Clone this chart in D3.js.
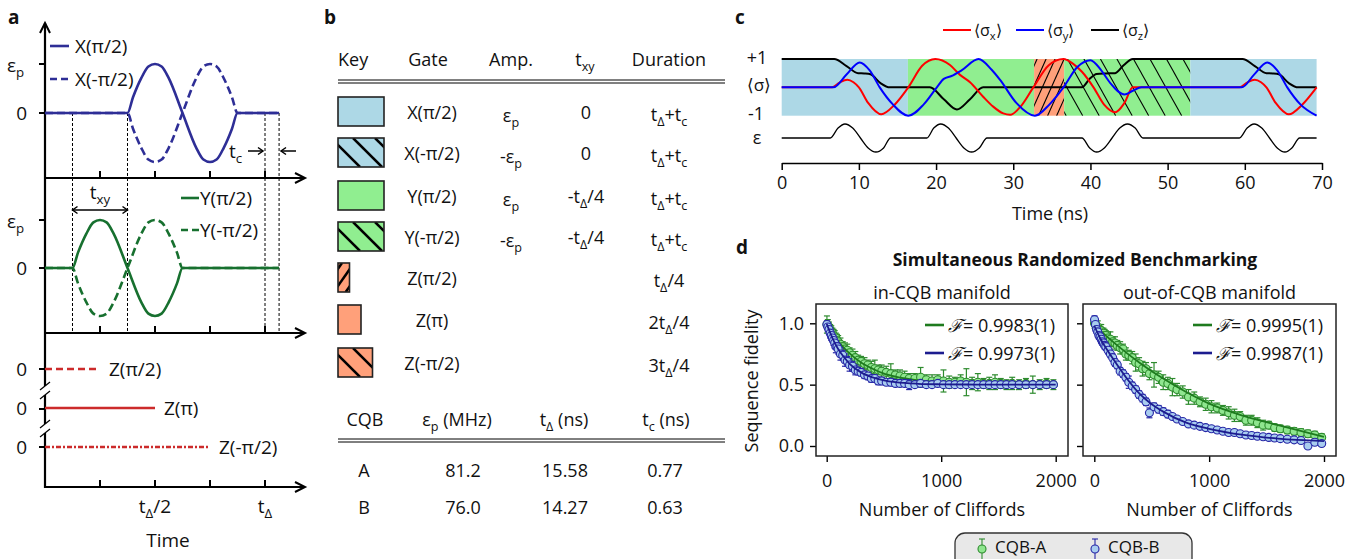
<!DOCTYPE html>
<html><head><meta charset="utf-8">
<script src="https://cdn.jsdelivr.net/npm/d3@7"></script>
<style>body{margin:0;background:#fff} text{font-family:"Open Sans",sans-serif;fill:#111}</style>
</head><body>
<svg id="fig" width="1349" height="559"></svg>
<script>
// ---------------- DATA ----------------
// Panel a (time in units of t_Delta, amplitude in units of eps_p)
const aXTicks = [0.25, 0.5, 0.75, 1.0];
const aGuides = [0.125, 0.375, 1.0, 1.064];
const xPos = [[0,0],[0.375,0],[0.40,0.32],[0.4375,0.71],[0.47,0.95],[0.5,1],[0.53,0.95],[0.5625,0.71],[0.625,0],[0.6875,-0.71],[0.72,-0.95],[0.75,-1],[0.78,-0.95],[0.8125,-0.71],[0.85,-0.32],[0.875,0],[1.064,0]];
const xNeg = [[0,0],[0.375,0],[0.40,-0.32],[0.4375,-0.71],[0.47,-0.95],[0.5,-1],[0.53,-0.95],[0.5625,-0.71],[0.625,0],[0.6875,0.71],[0.72,0.95],[0.75,1],[0.78,0.95],[0.8125,0.71],[0.85,0.32],[0.875,0],[1.064,0]];
const yPos = [[0,0],[0.125,0],[0.15,0.32],[0.1875,0.71],[0.22,0.95],[0.25,1],[0.28,0.95],[0.3125,0.71],[0.375,0],[0.4375,-0.71],[0.47,-0.95],[0.5,-1],[0.53,-0.95],[0.5625,-0.71],[0.60,-0.32],[0.625,0],[1.064,0]];
const yNeg = [[0,0],[0.125,0],[0.15,-0.32],[0.1875,-0.71],[0.22,-0.95],[0.25,-1],[0.28,-0.95],[0.3125,-0.71],[0.375,0],[0.4375,0.71],[0.47,0.95],[0.5,1],[0.53,0.95],[0.5625,0.71],[0.60,0.32],[0.625,0],[1.064,0]];
const zLabels = ["Z(π/2)", "Z(π)", "Z(-π/2)"];
const zDurations = [0.25, 0.5, 0.75];

// Panel b tables
const keyGates = ["X(π/2)","X(-π/2)","Y(π/2)","Y(-π/2)","Z(π/2)","Z(π)","Z(-π/2)"];
const keyAmp = ["ε_{p}","-ε_{p}","ε_{p}","-ε_{p}","","",""];
const keyTxy = ["0","0","-t_{Δ}/4","-t_{Δ}/4","","",""];
const keyDur = ["t_{Δ}+t_{c}","t_{Δ}+t_{c}","t_{Δ}+t_{c}","t_{Δ}+t_{c}","t_{Δ}/4","2t_{Δ}/4","3t_{Δ}/4"];
const keyQuarters = [4,4,4,4,1,2,3];
const cqbNames = ["A","B"];
const cqbEps = ["81.2","76.0"];
const cqbTDelta = ["15.58","14.27"];
const cqbTc = ["0.77","0.63"];

// Panel c
const cGates = ["X(π/2)","Y(π/2)","Z(π/2)","Y(-π/2)","X(π/2)"];
const cGateBounds = [0, 16.35, 32.7, 36.6, 52.95, 69.3];
const cTicks = [0,10,20,30,40,50,60,70];
const sigmaX = [[0,0],[6.5,0],[7.5,0.17],[8.5,0.27],[9.3,0.18],[10.0,0],[11.2,-0.55],[12.9,-0.95],[14.6,-0.62],[16.4,0],[18.2,0.76],[19.9,1.0],[21.8,0.79],[23.1,0.44],[24.4,0.18],[26.1,-0.33],[27.4,-0.68],[28.7,-0.92],[29.6,-0.97],[31.0,-0.66],[32.6,0],[34.6,0.78],[36.5,1.0],[37.8,0.82],[38.9,0.55],[40.4,0],[41.8,-0.62],[43.2,-0.88],[44.4,-0.55],[45.5,0],[59.3,0],[60.3,0.17],[61.3,0.27],[62.1,0.18],[62.8,0],[64.0,-0.55],[65.7,-0.95],[67.4,-0.62],[69.3,0]];
const sigmaY = [[0,0],[6.7,0],[8.4,0.45],[10.1,0.88],[11.4,0.6],[12.7,0],[14.4,-0.6],[16.4,-1.0],[18.4,-0.6],[20.1,0],[21.0,0.3],[22.0,0.4],[23.3,0.6],[25.5,1.0],[27.2,0.62],[28.3,0.26],[30.4,-0.55],[32.8,-1.0],[34.7,-0.6],[36.5,0],[38.3,0.72],[40.0,0.96],[41.4,0.6],[42.6,0.14],[44.4,-0.25],[45.5,-0.12],[46.6,0],[59.6,0],[61.2,0.45],[62.9,0.88],[64.2,0.6],[65.5,0],[67.2,-0.6],[69.3,-1.0]];
const sigmaZ = [[0,1],[6.8,1],[8.4,0.75],[9.9,0.5],[10.7,0.49],[11.5,0.46],[12.8,0.15],[14.0,0],[19.2,0],[21.0,-0.42],[22.7,-0.78],[24.4,-0.42],[26.1,0],[38.9,0],[39.9,0.3],[40.8,0.47],[42.0,0.49],[43.2,0.5],[44.3,0.78],[45.5,1.0],[59.7,1],[61.3,0.75],[62.8,0.5],[63.6,0.49],[64.4,0.46],[65.7,0.15],[66.9,0],[69.3,0]];
const epsTrace = [[0,0],[6.3,0],[7.3,0.71],[8.2,1],[9.2,0.71],[10.2,0],[11.2,-0.71],[12.2,-1],[13.2,-0.71],[14.1,0],
  [18.8,0],[19.7,0.71],[20.6,1],[21.6,0.71],[22.6,0],[23.6,-0.71],[24.6,-1],[25.6,-0.71],[26.6,0],
  [38.9,0],[39.9,-0.71],[40.8,-1],[41.8,-0.71],[42.8,0],[43.8,0.71],[44.8,1],[45.8,0.71],[46.8,0],
  [59.3,0],[60.3,0.71],[61.2,1],[62.2,0.71],[63.2,0],[64.2,-0.71],[65.2,-1],[66.1,-0.71],[67.1,0],[69.3,0]];

// Panel d
const cliffords = [2,10,20,30,40,50,60,70,80,90,
  100,120,140,160,180,200,225,250,275,300,
  330,360,390,420,450,480,520,560,600,640,
  680,720,770,820,870,920,970,1020,1070,1120,
  1170,1220,1270,1320,1370,1420,1470,1520,1570,1620,
  1680,1740,1800,1860,1920,1980];
const inA = [0.99,0.98,0.96,0.95,0.93,0.92,0.90,0.89,0.88,0.86,
  0.85,0.83,0.81,0.79,0.78,0.76,0.74,0.72,0.70,0.69,
  0.67,0.66,0.64,0.63,0.62,0.61,0.60,0.59,0.58,0.57,
  0.56,0.55,0.55,0.56,0.54,0.53,0.54,0.53,0.52,0.52,
  0.53,0.52,0.51,0.52,0.51,0.51,0.52,0.51,0.50,0.51,
  0.50,0.51,0.50,0.50,0.51,0.50];
const inAErr = [0.07,0.05,0.05,0.04,0.05,0.04,0.05,0.05,0.04,0.05,
  0.05,0.05,0.04,0.05,0.05,0.04,0.05,0.05,0.04,0.04,
  0.05,0.04,0.05,0.07,0.04,0.05,0.05,0.08,0.04,0.05,
  0.05,0.04,0.04,0.08,0.04,0.05,0.04,0.09,0.05,0.04,
  0.05,0.11,0.05,0.07,0.04,0.05,0.06,0.04,0.04,0.05,
  0.04,0.04,0.07,0.04,0.04,0.04];
const inB = [0.99,0.97,0.95,0.92,0.90,0.88,0.86,0.84,0.81,0.81,
  0.79,0.75,0.74,0.70,0.69,0.66,0.65,0.62,0.61,0.60,
  0.58,0.57,0.55,0.55,0.53,0.53,0.52,0.52,0.51,0.51,
  0.51,0.50,0.50,0.51,0.50,0.50,0.51,0.50,0.50,0.50,
  0.50,0.50,0.50,0.50,0.50,0.50,0.50,0.50,0.50,0.50,
  0.50,0.50,0.50,0.50,0.50,0.50];
const inBErr = [0.03,0.03,0.03,0.04,0.04,0.03,0.04,0.04,0.05,0.03,
  0.04,0.05,0.04,0.05,0.04,0.05,0.04,0.04,0.03,0.03,
  0.03,0.03,0.03,0.03,0.03,0.03,0.02,0.03,0.02,0.02,
  0.02,0.04,0.02,0.02,0.02,0.02,0.02,0.02,0.02,0.02,
  0.02,0.02,0.02,0.02,0.02,0.02,0.02,0.02,0.02,0.02,
  0.02,0.02,0.02,0.02,0.02,0.02];
const outA = [1.00,0.99,0.97,0.97,0.95,0.95,0.94,0.92,0.92,0.90,
  0.90,0.88,0.87,0.85,0.84,0.82,0.80,0.79,0.75,0.74,
  0.72,0.68,0.67,0.63,0.63,0.59,0.58,0.56,0.52,0.51,
  0.48,0.46,0.44,0.40,0.39,0.36,0.34,0.32,0.31,0.29,
  0.27,0.25,0.24,0.21,0.21,0.19,0.17,0.17,0.15,0.14,
  0.13,0.12,0.11,0.10,0.09,0.07];
const outAErr = [0.04,0.04,0.04,0.05,0.04,0.04,0.05,0.04,0.04,0.05,
  0.04,0.05,0.06,0.04,0.05,0.04,0.05,0.04,0.05,0.04,
  0.05,0.07,0.05,0.06,0.05,0.05,0.10,0.05,0.06,0.05,
  0.07,0.05,0.05,0.06,0.05,0.04,0.05,0.05,0.04,0.04,
  0.05,0.05,0.04,0.04,0.04,0.04,0.04,0.03,0.03,0.03,
  0.03,0.03,0.03,0.03,0.03,0.03];
const outB = [1.03,0.99,0.95,0.93,0.90,0.89,0.87,0.85,0.84,0.82,
  0.81,0.78,0.75,0.72,0.68,0.66,0.61,0.59,0.56,0.52,
  0.49,0.46,0.42,0.39,0.36,0.27,0.32,0.30,0.28,0.26,
  0.24,0.22,0.20,0.18,0.17,0.16,0.15,0.14,0.13,0.12,
  0.11,0.11,0.10,0.09,0.085,0.08,0.075,0.07,0.065,0.06,
  0.055,0.05,0.045,0.00,0.03,0.02];
const outBErr = [0.03,0.03,0.03,0.03,0.03,0.03,0.03,0.03,0.03,0.03,
  0.03,0.03,0.03,0.03,0.03,0.03,0.03,0.03,0.03,0.05,
  0.03,0.03,0.03,0.03,0.03,0.04,0.03,0.03,0.03,0.03,
  0.02,0.02,0.02,0.02,0.02,0.02,0.02,0.02,0.02,0.02,
  0.02,0.02,0.02,0.02,0.02,0.02,0.02,0.02,0.02,0.02,
  0.02,0.02,0.02,0.02,0.02,0.02];
const fitM = [0,50,100,150,200,300,400,500,600,800,1000,1300,1600,2000];
const fitInA = [0.995,0.92,0.855,0.80,0.755,0.68,0.63,0.59,0.565,0.535,0.52,0.51,0.505,0.502];
const fitInB = [0.995,0.88,0.79,0.725,0.67,0.60,0.56,0.535,0.52,0.507,0.503,0.501,0.5,0.5];
const fitOutA = [0.98,0.94,0.90,0.86,0.82,0.745,0.675,0.61,0.55,0.44,0.345,0.245,0.17,0.075];
const fitOutB = [0.98,0.88,0.80,0.73,0.66,0.53,0.42,0.34,0.28,0.19,0.14,0.09,0.06,0.04];
const fidIn = ["0.9983(1)","0.9973(1)"];
const fidOut = ["0.9995(1)","0.9987(1)"];
const seriesNames = ["CQB-A","CQB-B"];
const dXTicks = [0, 1000, 2000];
const dYTicks = [0, 0.5, 1];

// ---------------- HELPERS ----------------
const svg = d3.select('#fig');
svg.append('rect').attr('width',1349).attr('height',559).attr('fill','#fff');
const defs = svg.append('defs');
let clipN = 0;

function rich(sel, str, shift) {
  shift = shift || 5;
  const re = /_\{([^}]*)\}/g; let last = 0, m; const parts = [];
  while ((m = re.exec(str))) { if (m.index > last) parts.push([str.slice(last, m.index), false]); parts.push([m[1], true]); last = re.lastIndex; }
  if (last < str.length) parts.push([str.slice(last), false]);
  let prev = false;
  parts.forEach(([t, s]) => {
    const ts = sel.append('tspan').text(t);
    if (s) ts.attr('font-size', '70%').attr('dy', shift);
    else if (prev) ts.attr('dy', -shift);
    prev = s;
  });
  return sel;
}
function txt(x, y, str, opt) {
  opt = opt || {};
  const t = svg.append('text').attr('x', x).attr('y', y)
    .attr('font-size', opt.size || 18).attr('text-anchor', opt.anchor || 'start');
  if (opt.weight) t.attr('font-weight', opt.weight);
  rich(t, str, opt.shift);
  return t;
}
function chevron(g, x, y, dir, len, half, sw) {
  let p;
  if (dir === 'r') p = [[x - len, y - half], [x, y], [x - len, y + half]];
  else if (dir === 'l') p = [[x + len, y - half], [x, y], [x + len, y + half]];
  else p = [[x - half, y + len], [x, y], [x + half, y + len]];
  g.append('path').attr('d', d3.line()(p)).attr('fill', 'none').attr('stroke', '#000').attr('stroke-width', sw);
}
function hatch(g, x, y, w, h, dir, step, slope, sw, off) {
  const id = 'clip' + (clipN++);
  defs.append('clipPath').attr('id', id).append('rect').attr('x', x).attr('y', y).attr('width', w).attr('height', h);
  const gg = g.append('g').attr('clip-path', `url(#${id})`);
  for (let x0 = x - slope * h - step + (off || 0); x0 < x + w + step; x0 += step) {
    const p = dir > 0 ? [[x0, y], [x0 + slope * h, y + h]] : [[x0, y + h], [x0 + slope * h, y]];
    gg.append('path').attr('d', d3.line()(p)).attr('stroke', '#000').attr('stroke-width', sw);
  }
}

// ---------------- PANEL LABELS ----------------
txt(8, 24, 'a', {weight: 'bold', size: 19});
txt(324, 24, 'b', {weight: 'bold', size: 19});
txt(735, 24, 'c', {weight: 'bold', size: 19});
txt(736, 254, 'd', {weight: 'bold', size: 19});

// ---------------- PANEL A ----------------
const gA = svg.append('g');
const aX = d3.scaleLinear().domain([0, 1]).range([45, 265]);
const aYt = d3.scaleLinear().domain([-1, 1]).range([162, 64]);
const aYm = d3.scaleLinear().domain([-1, 1]).range([316, 220]);
const blueA = '#2e2e96', greenA = '#17702f', redA = '#cc2b2b';

aGuides.forEach(t => gA.append('line').attr('x1', aX(t)).attr('x2', aX(t)).attr('y1', 113).attr('y2', 333)
  .attr('stroke', '#000').attr('stroke-width', 1).attr('stroke-dasharray', '3,2'));

const axW = 2.2;
gA.append('line').attr('x1', 45).attr('x2', 45).attr('y1', 23).attr('y2', 386).attr('stroke', '#000').attr('stroke-width', axW);
gA.append('line').attr('x1', 45).attr('x2', 45).attr('y1', 395).attr('y2', 424).attr('stroke', '#000').attr('stroke-width', axW);
gA.append('line').attr('x1', 45).attr('x2', 45).attr('y1', 433).attr('y2', 488).attr('stroke', '#000').attr('stroke-width', axW);
[[386, 395], [424, 433]].forEach(([a, b]) => {
  gA.append('line').attr('x1', 40).attr('x2', 50).attr('y1', a + 4).attr('y2', a - 4).attr('stroke', '#000').attr('stroke-width', 1.3);
  gA.append('line').attr('x1', 40).attr('x2', 50).attr('y1', b + 4).attr('y2', b - 4).attr('stroke', '#000').attr('stroke-width', 1.3);
});
chevron(gA, 45, 23, 'u', 10, 5, 2);
[178, 333, 487].forEach(yy => {
  gA.append('line').attr('x1', 44).attr('x2', 305).attr('y1', yy).attr('y2', yy).attr('stroke', '#000').attr('stroke-width', axW);
  chevron(gA, 305, yy, 'r', 10, 5, 2);
  aXTicks.forEach(t => gA.append('line').attr('x1', aX(t)).attr('x2', aX(t)).attr('y1', yy).attr('y2', yy - 7).attr('stroke', '#000').attr('stroke-width', 2));
});
[[aYt(1)], [aYt(0)], [aYm(1)], [aYm(0)], [369], [409], [447]].forEach(([yy]) =>
  gA.append('line').attr('x1', 39).attr('x2', 45).attr('y1', yy).attr('y2', yy).attr('stroke', '#000').attr('stroke-width', 2));
txt(7, aYt(1) + 8, 'ε_{p}', {size: 19});
txt(27, aYt(0) + 7, '0', {size: 19, anchor: 'end'});
txt(7, aYm(1) + 8, 'ε_{p}', {size: 19});
txt(27, aYm(0) + 7, '0', {size: 19, anchor: 'end'});

const lineT = d3.line().x(d => aX(d[0])).y(d => aYt(d[1])).curve(d3.curveMonotoneX);
const lineM = d3.line().x(d => aX(d[0])).y(d => aYm(d[1])).curve(d3.curveMonotoneX);
gA.append('path').attr('d', lineT(xNeg)).attr('fill', 'none').attr('stroke', blueA).attr('stroke-width', 2.6).attr('stroke-dasharray', '8,4');
gA.append('path').attr('d', lineT(xPos)).attr('fill', 'none').attr('stroke', blueA).attr('stroke-width', 2.6);
gA.append('path').attr('d', lineM(yNeg)).attr('fill', 'none').attr('stroke', greenA).attr('stroke-width', 2.6).attr('stroke-dasharray', '8,4');
gA.append('path').attr('d', lineM(yPos)).attr('fill', 'none').attr('stroke', greenA).attr('stroke-width', 2.6);

gA.append('line').attr('x1', 50).attr('x2', 69).attr('y1', 46).attr('y2', 46).attr('stroke', blueA).attr('stroke-width', 2.6);
txt(75, 53, 'X(π/2)', {size: 19});
gA.append('line').attr('x1', 50).attr('x2', 69).attr('y1', 79).attr('y2', 79).attr('stroke', blueA).attr('stroke-width', 2.6).attr('stroke-dasharray', '7,4');
txt(75, 86, 'X(-π/2)', {size: 19});
gA.append('line').attr('x1', 181).attr('x2', 199).attr('y1', 198).attr('y2', 198).attr('stroke', greenA).attr('stroke-width', 2.6);
txt(200, 205, 'Y(π/2)', {size: 19});
gA.append('line').attr('x1', 181).attr('x2', 199).attr('y1', 230).attr('y2', 230).attr('stroke', greenA).attr('stroke-width', 2.6).attr('stroke-dasharray', '7,4');
txt(200, 237, 'Y(-π/2)', {size: 19});

txt(229, 158, 't_{c}', {size: 19});
gA.append('line').attr('x1', 248).attr('x2', 263).attr('y1', 151).attr('y2', 151).attr('stroke', '#000').attr('stroke-width', 1.5);
chevron(gA, 263, 151, 'r', 5, 3.5, 1.5);
gA.append('line').attr('x1', 296).attr('x2', 281).attr('y1', 151).attr('y2', 151).attr('stroke', '#000').attr('stroke-width', 1.5);
chevron(gA, 281, 151, 'l', 5, 3.5, 1.5);
gA.append('line').attr('x1', aX(0.125)).attr('x2', aX(0.375)).attr('y1', 210).attr('y2', 210).attr('stroke', '#000').attr('stroke-width', 1.5);
chevron(gA, aX(0.125), 210, 'l', 5, 3.5, 1.5);
chevron(gA, aX(0.375), 210, 'r', 5, 3.5, 1.5);
txt(100, 199, 't_{xy}', {size: 19, anchor: 'middle'});

const zY = d3.scalePoint().domain(zLabels).range([369, 447]);
const zDash = ['7,4', null, '5,2,2,2'];
zLabels.forEach((lab, i) => {
  const l = gA.append('line').attr('x1', 45).attr('x2', aX(zDurations[i])).attr('y1', zY(lab)).attr('y2', zY(lab))
    .attr('stroke', redA).attr('stroke-width', 2.4);
  if (zDash[i]) l.attr('stroke-dasharray', zDash[i]);
  txt(aX(zDurations[i]) + 9, zY(lab) + 7, lab, {size: 19});
  txt(27, zY(lab) + 7, '0', {size: 19, anchor: 'end'});
});
txt(aX(0.5), 513, 't_{Δ}/2', {size: 19, anchor: 'middle'});
txt(aX(1.0), 513, 't_{Δ}', {size: 19, anchor: 'middle'});
txt(168, 547, 'Time', {size: 19, anchor: 'middle'});

// ---------------- PANEL B ----------------
const gB = svg.append('g');
const fillFor = g => g.startsWith('X') ? '#add8e6' : g.startsWith('Y') ? '#90ee90' : '#ffa07a';
const keyW = d3.scaleLinear().domain([0, 4]).range([0, 46]);
const rowY = [112, 153, 196, 237, 278, 320, 363];
txt(338, 66, 'Key', {size: 18});
txt(428, 66, 'Gate', {size: 18, anchor: 'middle'});
txt(511, 66, 'Amp.', {size: 18, anchor: 'middle'});
txt(585, 66, 't_{xy}', {size: 18, anchor: 'middle'});
txt(669, 66, 'Duration', {size: 18, anchor: 'middle'});
[80, 83].forEach(yy => gB.append('line').attr('x1', 338).attr('x2', 725).attr('y1', yy).attr('y2', yy).attr('stroke', '#000').attr('stroke-width', 1));
keyGates.forEach((g, i) => {
  const w = keyW(keyQuarters[i]), y0 = rowY[i] - 15, h = 29;
  gB.append('rect').attr('x', 338).attr('y', y0).attr('width', w).attr('height', h).attr('fill', fillFor(g));
  if (g.includes('-π')) hatch(gB, 338, y0, w, h, 1, 22, 1, 2.5, 0);
  else if (g === 'Z(π/2)') hatch(gB, 338, y0, w, h, -1, 12, 0.7, 2.5, 4);
  gB.append('rect').attr('x', 338).attr('y', y0).attr('width', w).attr('height', h).attr('fill', 'none').attr('stroke', '#222').attr('stroke-width', 1.6);
  txt(432, rowY[i] + 7, g, {size: 18, anchor: 'middle'});
  if (keyAmp[i]) txt(511, rowY[i] + 10, keyAmp[i], {size: 18, anchor: 'middle'});
  if (keyTxy[i]) txt(586, rowY[i] + 7, keyTxy[i], {size: 18, anchor: 'middle'});
  txt(669, rowY[i] + 9, keyDur[i], {size: 18, anchor: 'middle'});
});
txt(365, 426, 'CQB', {size: 18, anchor: 'middle'});
txt(457, 426, 'ε_{p} (MHz)', {size: 18, anchor: 'middle'});
txt(564, 426, 't_{Δ} (ns)', {size: 18, anchor: 'middle'});
txt(666, 426, 't_{c} (ns)', {size: 18, anchor: 'middle'});
[439, 442].forEach(yy => gB.append('line').attr('x1', 338).attr('x2', 725).attr('y1', yy).attr('y2', yy).attr('stroke', '#000').attr('stroke-width', 1));
const cqbY = d3.scalePoint().domain(cqbNames).range([470, 507]);
cqbNames.forEach((n, i) => {
  const yy = cqbY(n) + 7;
  txt(364, yy, n, {size: 18, anchor: 'middle'});
  txt(463, yy, cqbEps[i], {size: 18, anchor: 'middle'});
  txt(565, yy, cqbTDelta[i], {size: 18, anchor: 'middle'});
  txt(665, yy, cqbTc[i], {size: 18, anchor: 'middle'});
});

// ---------------- PANEL C ----------------
const gC = svg.append('g');
const cx = d3.scaleLinear().domain([0, 70]).range([781.7, 1322]);
const cy = d3.scaleLinear().domain([-1, 1]).range([115.7, 59]);
const ce = d3.scaleLinear().domain([-1, 1]).range([152, 124]);
cGates.forEach((g, i) => {
  const x0 = cx(cGateBounds[i]), x1 = cx(cGateBounds[i + 1]);
  gC.append('rect').attr('x', x0).attr('y', cy(1)).attr('width', x1 - x0).attr('height', cy(-1) - cy(1)).attr('fill', fillFor(g));
  if (g.includes('-π')) hatch(gC, x0, cy(1), x1 - x0, cy(-1) - cy(1), 1, 16.5, 0.56, 1.1, 2);
  else if (g.startsWith('Z')) hatch(gC, x0, cy(1), x1 - x0, cy(-1) - cy(1), -1, 9, 0.45, 1.1, 3);
});
const cLine = d3.line().x(d => cx(d[0])).y(d => cy(d[1])).curve(d3.curveMonotoneX);
gC.append('path').attr('d', cLine(sigmaZ)).attr('fill', 'none').attr('stroke', '#000').attr('stroke-width', 2);
gC.append('path').attr('d', cLine(sigmaX)).attr('fill', 'none').attr('stroke', '#f00').attr('stroke-width', 2);
gC.append('path').attr('d', cLine(sigmaY)).attr('fill', 'none').attr('stroke', '#00f').attr('stroke-width', 2);
const eLine = d3.line().x(d => cx(d[0])).y(d => ce(d[1])).curve(d3.curveMonotoneX);
gC.append('path').attr('d', eLine(epsTrace)).attr('fill', 'none').attr('stroke', '#000').attr('stroke-width', 1.3);
const cAxis = gC.append('g').attr('transform', 'translate(0,163)')
  .call(d3.axisBottom(cx).tickValues(cTicks).tickSize(7).tickSizeOuter(0).tickPadding(6));
cAxis.select('.domain').attr('stroke-width', 1.5);
cAxis.selectAll('.tick line').attr('stroke-width', 1.5);
cAxis.selectAll('.tick text').attr('font-size', 18).attr('font-family', '"Open Sans",sans-serif').attr('fill', '#111');
txt(1050, 220, 'Time (ns)', {size: 18, anchor: 'middle'});
txt(757, 64, '+1', {size: 18, anchor: 'middle'});
txt(759, 91, '⟨σ⟩', {size: 17, anchor: 'middle'});
txt(756, 120, '-1', {size: 18, anchor: 'middle'});
txt(757, 144, 'ε', {size: 18, anchor: 'middle'});
const cLeg = [['#f00', 943, '⟨σ_{x}⟩'], ['#00f', 1016, '⟨σ_{y}⟩'], ['#000', 1091, '⟨σ_{z}⟩']];
cLeg.forEach(([col, x0, lab]) => {
  gC.append('line').attr('x1', x0).attr('x2', x0 + 28).attr('y1', 30).attr('y2', 30).attr('stroke', col).attr('stroke-width', 2);
  txt(x0 + 31, 36, lab, {size: 16, shift: 4});
});

// ---------------- PANEL D ----------------
const gD = svg.append('g');
const dY = d3.scaleLinear().domain([0, 1]).range([446, 323.3]);
const panels = [
  {x0: 816, x1: 1068, sx: d3.scaleLinear().domain([0, 2000]).range([826.7, 1055.7]), title: 'in-CQB manifold',
   A: inA, Ae: inAErr, B: inB, Be: inBErr, fA: fitInA, fB: fitInB, fid: fidIn, labels: true},
  {x0: 1083, x1: 1336, sx: d3.scaleLinear().domain([0, 2000]).range([1094.3, 1324]), title: 'out-of-CQB manifold',
   A: outA, Ae: outAErr, B: outB, Be: outBErr, fA: fitOutA, fB: fitOutB, fid: fidOut, labels: false}
];
const colA = {stroke: '#2e8b2e', fill: '#8fe68f', fit: '#1e7b1e'};
const colB = {stroke: '#2626a6', fill: '#a9cdef', fit: '#1c1c8f'};
txt(1075, 266, 'Simultaneous Randomized Benchmarking', {size: 17.5, anchor: 'middle', weight: 'bold'});
panels.forEach(p => {
  const g = gD.append('g');
  const cxm = (p.x0 + p.x1) / 2;
  txt(cxm, 299, p.title, {size: 18, anchor: 'middle'});
  const ya = g.append('g').attr('transform', `translate(${p.x0},0)`)
    .call(d3.axisLeft(dY).tickValues(dYTicks).tickSize(6).tickPadding(6).tickFormat(p.labels ? d3.format('.1f') : () => ''));
  ya.select('.domain').remove();
  ya.selectAll('.tick line').attr('stroke-width', 1.4);
  ya.selectAll('.tick text').attr('font-size', 18).attr('font-family', '"Open Sans",sans-serif').attr('fill', '#111');
  const xa = g.append('g').attr('transform', 'translate(0,456)')
    .call(d3.axisBottom(p.sx).tickValues(dXTicks).tickSize(6).tickPadding(12).tickFormat(d3.format('d')));
  xa.select('.domain').remove();
  xa.selectAll('.tick line').attr('stroke-width', 1.4);
  xa.selectAll('.tick text').attr('font-size', 18).attr('font-family', '"Open Sans",sans-serif').attr('fill', '#111');
  txt(cxm, 516, 'Number of Cliffords', {size: 18, anchor: 'middle'});
  const clipId = 'dclip' + p.x0;
  defs.append('clipPath').attr('id', clipId).append('rect').attr('x', p.x0).attr('y', 304).attr('width', p.x1 - p.x0).attr('height', 152);
  const inner = g.append('g').attr('clip-path', `url(#${clipId})`);
  const fitLine = d3.line().x((d, i) => p.sx(fitM[i])).y(d => dY(d)).curve(d3.curveMonotoneX);
  [[p.A, p.Ae, colA, p.fA], [p.B, p.Be, colB, p.fB]].forEach(([vals, errs, col, fit]) => {
    const eg = inner.append('g').attr('stroke', col.stroke).attr('stroke-width', 1.2);
    vals.forEach((v, i) => {
      const xx = p.sx(cliffords[i]);
      eg.append('line').attr('x1', xx).attr('x2', xx).attr('y1', dY(v - errs[i])).attr('y2', dY(v + errs[i]));
      [v - errs[i], v + errs[i]].forEach(e => eg.append('line').attr('x1', xx - 3).attr('x2', xx + 3).attr('y1', dY(e)).attr('y2', dY(e)));
    });
    inner.append('g').selectAll('circle').data(vals).join('circle')
      .attr('cx', (d, i) => p.sx(cliffords[i])).attr('cy', d => dY(d)).attr('r', 4)
      .attr('fill', col.fill).attr('stroke', col.stroke).attr('stroke-width', 1.1);
    inner.append('path').attr('d', fitLine(fit)).attr('fill', 'none').attr('stroke', col.fit).attr('stroke-width', 1.8);
  });
  g.append('rect').attr('x', p.x0).attr('y', 304).attr('width', p.x1 - p.x0).attr('height', 152)
    .attr('fill', 'none').attr('stroke', '#222').attr('stroke-width', 1.5);
  const lx = p.x1 - 143;
  [[colA, 325, p.fid[0]], [colB, 353, p.fid[1]]].forEach(([col, yy, f]) => {
    g.append('line').attr('x1', lx).attr('x2', lx + 19).attr('y1', yy).attr('y2', yy).attr('stroke', col.fit).attr('stroke-width', 2.6);
    const t = txt(lx + 23, yy + 7, '', {size: 18});
    t.append('tspan').attr('font-style', 'italic').attr('font-family', 'DejaVu Serif, serif').text('ℱ');
    t.append('tspan').text('= ' + f);
  });
});
svg.append('text').attr('transform', 'translate(758,381) rotate(-90)').attr('text-anchor', 'middle')
  .attr('font-size', 18).text('Sequence fidelity');

// bottom legend (box runs off the bottom edge, as in the reference)
gD.append('rect').attr('x', 955).attr('y', 533).attr('width', 237).attr('height', 40).attr('rx', 10)
  .attr('fill', '#e8e8e8').attr('stroke', '#333').attr('stroke-width', 1.3);
[[colA, 982, seriesNames[0]], [colB, 1095, seriesNames[1]]].forEach(([col, x0, lab]) => {
  gD.append('line').attr('x1', x0).attr('x2', x0).attr('y1', 539).attr('y2', 559).attr('stroke', col.stroke).attr('stroke-width', 1.1);
  gD.append('line').attr('x1', x0 - 3).attr('x2', x0 + 3).attr('y1', 539).attr('y2', 539).attr('stroke', col.stroke).attr('stroke-width', 1.1);
  gD.append('circle').attr('cx', x0).attr('cy', 549).attr('r', 4).attr('fill', col.fill).attr('stroke', col.stroke).attr('stroke-width', 1.1);
  txt(x0 + 13, 553, lab, {size: 17});
});
</script>
</body></html>
